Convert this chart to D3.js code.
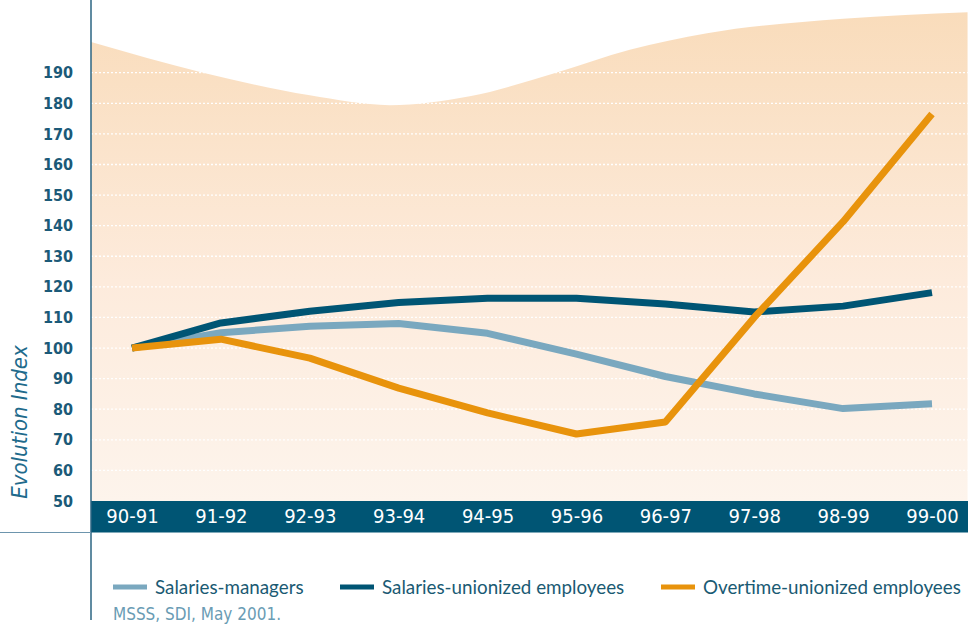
<!DOCTYPE html>
<meta charset="utf-8">
<style>
  body { margin: 0; background: #fff; }
  .ytick text { font: bold 16px "Liberation Sans Narrow", "DejaVu Sans Condensed", sans-serif; fill: #1b5a78; }
  .xtick text { font: 20px "Liberation Sans Narrow", "DejaVu Sans Condensed", sans-serif; fill: #fff; }
  .legend text { font: 18.8px Lato, "Open Sans", sans-serif; fill: #1a5a73; }
  .source { font: 17px "Liberation Sans Narrow", "DejaVu Sans Condensed", sans-serif; fill: #6a9cb4; }
  .ytitle { font: italic 22px "Liberation Sans Narrow", "DejaVu Sans Condensed", sans-serif; fill: #1f6b8c; }
</style>
<script src="https://d3js.org/d3.v7.min.js"></script>
<div id="chart"></div>
<script>
  // categories and series (index, 1990-91 = 100)
  var years = ["90-91", "91-92", "92-93", "93-94", "94-95", "95-96", "96-97", "97-98", "98-99", "99-00"];
  var managers = [100, 105, 107.1, 108, 104.8, 98, 90.7, 85, 80.2, 81.8];
  var unionized = [100, 108.2, 112, 114.9, 116.3, 116.3, 114.4, 111.8, 113.7, 118.1];
  var overtime = [100, 102.9, 96.7, 86.9, 78.8, 71.9, 75.8, 110, 141.3, 176.5];
  var yTicks = [50, 60, 70, 80, 90, 100, 110, 120, 130, 140, 150, 160, 170, 180, 190];

  // decorative wave behind the plot, as [category position, index value]
  var wave = [[-0.46, 200], [0.8, 190], [2.0, 182.6], [2.9, 179.4], [3.8, 182.3],
              [4.77, 190], [5.6, 197.5], [6.47, 202.9], [8, 207.6], [9.4, 209.8]];

  var series = [
    { name: "Salaries-managers", values: managers, color: "#7aa8bf" },
    { name: "Salaries-unionized employees", values: unionized, color: "#005574" },
    { name: "Overtime-unionized employees", values: overtime, color: "#e8930c" }
  ];

  var width = 968, height = 626;
  var axisX = 91, right = 968;

  var svg = d3.select("#chart").append("svg")
    .attr("width", width)
    .attr("height", height);

  var x = d3.scaleLinear().domain([0, 9]).range([132, 932]);
  var y = d3.scaleLinear().domain([50, 190]).range([501, 72.7]);

  // background gradient
  var defs = svg.append("defs");
  var grad = defs.append("linearGradient")
    .attr("id", "bg")
    .attr("x1", 0).attr("y1", 0).attr("x2", 0).attr("y2", 1);
  grad.append("stop").attr("offset", "0%").attr("stop-color", "#f9dcbb");
  grad.append("stop").attr("offset", "55%").attr("stop-color", "#fdebdc");
  grad.append("stop").attr("offset", "100%").attr("stop-color", "#fdf4ec");

  defs.append("clipPath").attr("id", "plotclip")
    .append("rect")
      .attr("x", axisX).attr("y", 0)
      .attr("width", right - axisX).attr("height", y(50));

  var area = d3.area()
    .x(function(d) { return x(d[0]); })
    .y0(y(50))
    .y1(function(d) { return y(d[1]); })
    .curve(d3.curveMonotoneX);

  svg.append("path")
    .datum(wave)
    .attr("clip-path", "url(#plotclip)")
    .attr("fill", "url(#bg)")
    .attr("d", area);

  // dotted gridlines
  svg.append("g")
    .selectAll("line")
    .data(yTicks.filter(function(d) { return d > 50; }))
    .enter().append("line")
      .attr("x1", axisX).attr("x2", right)
      .attr("y1", function(d) { return y(d); })
      .attr("y2", function(d) { return y(d); })
      .attr("stroke", "#fff")
      .attr("stroke-width", 1.3)
      .attr("stroke-dasharray", "2,2");

  // dark band for the category axis
  svg.append("rect")
    .attr("x", axisX).attr("y", y(50))
    .attr("width", right - axisX).attr("height", 31.5)
    .attr("fill", "#005574");

  var xAxis = svg.append("g")
    .attr("class", "xtick")
    .attr("transform", "translate(0," + y(50) + ")")
    .call(d3.axisBottom(x)
      .tickValues(d3.range(years.length))
      .tickFormat(function(i) { return years[i]; })
      .tickSize(0)
      .tickPadding(8));
  xAxis.select(".domain").remove();
  xAxis.selectAll("text").attr("dy", "0.72em");

  var yAxis = svg.append("g")
    .attr("class", "ytick")
    .attr("transform", "translate(" + axisX + ",0)")
    .call(d3.axisLeft(y).tickValues(yTicks).tickSize(0).tickPadding(18));
  yAxis.select(".domain").remove();

  // frame lines
  svg.append("line")
    .attr("x1", axisX).attr("x2", axisX)
    .attr("y1", 0).attr("y2", 620)
    .attr("stroke", "#2b6482").attr("stroke-width", 1.5);
  svg.append("line")
    .attr("x1", 0).attr("x2", axisX)
    .attr("y1", 532.5).attr("y2", 532.5)
    .attr("stroke", "#6d95ad").attr("stroke-width", 1.2);

  svg.append("text")
    .attr("class", "ytitle")
    .attr("transform", "translate(27,422) rotate(-90)")
    .attr("text-anchor", "middle")
    .text("Evolution Index");

  // lines
  var line = d3.line()
    .x(function(d, i) { return x(i); })
    .y(function(d) { return y(d); });

  svg.append("g")
    .selectAll("path")
    .data(series)
    .enter().append("path")
      .attr("fill", "none")
      .attr("stroke", function(d) { return d.color; })
      .attr("stroke-width", 7)
      .attr("stroke-linejoin", "round")
      .attr("d", function(d) { return line(d.values); });

  // legend
  var legendX = [113, 340, 661];
  var legend = svg.append("g")
    .attr("class", "legend")
    .selectAll("g")
    .data(series)
    .enter().append("g")
      .attr("transform", function(d, i) { return "translate(" + legendX[i] + ",587)"; });
  legend.append("line")
    .attr("x1", 0).attr("x2", 34)
    .attr("stroke", function(d) { return d.color; })
    .attr("stroke-width", 5);
  legend.append("text")
    .attr("x", 42)
    .attr("y", 7)
    .text(function(d) { return d.name; });

  svg.append("text")
    .attr("class", "source")
    .attr("x", 113)
    .attr("y", 620)
    .text("MSSS, SDI, May 2001.");
</script>
